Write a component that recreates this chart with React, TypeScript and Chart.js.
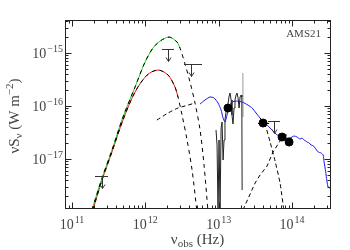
import React, { useEffect, useRef } from "react";
import { Chart, registerables } from "chart.js";
Chart.register(...registerables);

// ---- axis ranges ----
const X_MIN = 8.03e10;
const X_MAX = 3.3e14;
const Y_MIN = 1.19e-18;
const Y_MAX = 4.2e-15;
const X_LABEL_EXPS = [11, 12, 13, 14];
const Y_LABEL_EXPS = [-17, -16, -15];

// ---- cold dust, total (green) ----
const coldNu = [1.87e11, 2.57e11, 3.51e11, 4.96e11, 7.24e11, 9.91e11, 1.27e12, 1.59e12, 2.11e12, 2.71e12, 2.97e12];
const coldFlux = [1.1e-18, 4.38e-18, 1.48e-17, 6.2e-17, 2.28e-16, 6.76e-16, 1.24e-15, 1.68e-15, 2.0e-15, 1.61e-15, 1.24e-15];
const coldTailNu = [3.48e12, 4.07e12, 4.76e12, 5.58e12, 6.32e12, 7.17e12];
const coldTailFlux = [6.2e-16, 2.84e-16, 1.14e-16, 3.52e-17, 7.7e-18, 1.0e-18];

// ---- cold dust, second fit (red) ----
const redNu = [1.93e11, 2.57e11, 3.51e11, 4.96e11, 7.24e11, 1.06e12, 1.49e12, 2.04e12, 2.54e12, 2.79e12];
const redFlux = [1.1e-18, 4.02e-18, 1.36e-17, 5.44e-17, 1.84e-16, 3.85e-16, 4.78e-16, 3.85e-16, 2.28e-16, 1.48e-16];
const redTailNu = [3.17e12, 3.71e12, 4.34e12, 5.07e12];
const redTailFlux = [6.76e-17, 2.28e-17, 6.2e-18, 1.0e-18];

// ---- warm dust component (rising part; falls along the cold tail) ----
const warmNu = [1.44e12, 2.04e12, 2.79e12, 3.82e12, 4.76e12];
const warmFlux = [5.44e-17, 7.38e-17, 9.17e-17, 1.04e-16, 1.14e-16];

// ---- hot dust component (rising) ----
const hotNu = [2.15e13, 3.14e13, 3.67e13, 4.58e13, 5.52e13, 7.32e13, 8.85e13];
const hotFlux = [1.1e-18, 3.52e-18, 4.99e-18, 7.38e-18, 1.36e-17, 2.49e-17, 2.96e-17];

// ---- mid-IR component (falling) ----
const midNu = [3.67e13, 4.3e13, 5.03e13, 5.88e13, 6.88e13, 7.8e13];
const midFlux = [5.94e-17, 4.38e-17, 2.09e-17, 9.17e-18, 3.52e-18, 1.0e-18];

// ---- blue template ----
const blueNu = [5.58e12, 6.52e12, 7.63e12, 8.65e12, 9.81e12, 1.08e13, 1.15e13, 1.22e13, 1.3e13, 1.39e13, 1.52e13, 1.73e13, 2.09e13, 2.52e13, 2.86e13, 3.24e13, 3.67e13, 4.3e13, 5.03e13, 5.88e13, 6.88e13, 8.05e13, 9.42e13, 1.07e14, 1.17e14, 1.29e14, 1.37e14, 1.46e14, 1.53e14, 1.61e14, 1.72e14, 1.82e14, 1.95e14, 2.07e14, 2.27e14, 2.49e14, 2.66e14, 2.74e14, 2.83e14, 2.92e14, 3.01e14, 3.11e14, 3.31e14];
const blueFlux = [1.09e-16, 1.3e-16, 1.48e-16, 1.42e-16, 1.14e-16, 8.41e-17, 5.94e-17, 4.99e-17, 6.76e-17, 1.0e-16, 1.19e-16, 1.24e-16, 1.19e-16, 1.04e-16, 9.17e-17, 7.38e-17, 5.94e-17, 4.78e-17, 3.85e-17, 3.09e-17, 2.6e-17, 2.49e-17, 2.49e-17, 2.72e-17, 2.6e-17, 2.38e-17, 2.5e-17, 2.28e-17, 2.2e-17, 2.09e-17, 2.0e-17, 1.84e-17, 1.78e-17, 1.61e-17, 1.36e-17, 1.3e-17, 1.19e-17, 8.78e-18, 6.76e-18, 4.99e-18, 3.68e-18, 2.96e-18, 2.83e-18];

// ---- IRS spectrum ----
const specNu = [9.21e12, 9.51e12, 9.81e12, 1.013e13, 1.045e13, 1.08e13, 1.113e13, 1.15e13, 1.185e13, 1.22e13, 1.26e13, 1.34e13, 1.39e13, 1.43e13, 1.48e13, 1.52e13, 1.57e13, 1.62e13, 1.67e13, 1.73e13, 1.78e13, 1.84e13, 1.9e13, 1.96e13, 2.02e13, 2.07e13, 2.09e13];
const specFlux = [3.52e-17, 1.84e-17, 1.0e-18, 2.28e-17, 1.0e-18, 3.85e-17, 4.99e-17, 9.57e-18, 2.28e-17, 5.44e-17, 7.7e-17, 1.09e-16, 1.54e-16, 1.76e-16, 1.3e-16, 6.76e-17, 4.57e-17, 9.17e-17, 1.3e-16, 1.61e-16, 1.76e-16, 1.42e-16, 9.17e-17, 1.48e-16, 1.61e-16, 1.48e-16, 2.6e-18];
const spikeNu = [2.14e13, 2.15e13];
const spikeFlux = [4.2e-16, 6.2e-17];

// ---- photometry ----
const dotNu = [1.34e13, 4.03e13, 7.32e13, 9.13e13];
const dotFlux = [9.17e-17, 4.78e-17, 2.6e-17, 2.09e-17];
const dotNuLo = [null, 3.45e13, null, null];
const dotNuHi = [null, 4.87e13, null, null];

// ---- upper limits ----
const ulNu = [2.57e11, 2.04e12, 4.2e12, 5.7e13];
const ulFlux = [4.78e-18, 1.19e-15, 6.2e-16, 5.21e-17];
const ulNuLo = [2.06e11, 1.69e12, 3.37e12, 4.72e13];
const ulNuHi = [3.1e11, 2.46e12, 5.94e12, 6.88e13];

const FONT = '"Liberation Serif", "DejaVu Serif", serif';
const TEXT = "#444";

const pts = (xs: number[], ys: number[]) => xs.map((x, i) => ({ x, y: ys[i] }));

function drawParts(ctx: CanvasRenderingContext2D, parts: { t: string; s: number; dy: number }[], cx: number, y: number) {
  let total = 0;
  const widths = parts.map((p) => {
    ctx.font = `${p.s}px ${FONT}`;
    const w = ctx.measureText(p.t).width;
    total += w;
    return w;
  });
  let x = cx - total / 2;
  ctx.textAlign = "left";
  ctx.textBaseline = "alphabetic";
  parts.forEach((p, i) => {
    ctx.font = `${p.s}px ${FONT}`;
    ctx.fillText(p.t, x, y + p.dy);
    x += widths[i];
  });
}

function drawPow(ctx: CanvasRenderingContext2D, exp: number, x: number, y: number, align: string) {
  const size = 14;
  const es = 10;
  const expStr = exp < 0 ? "\u2212" + String(-exp) : String(exp);
  ctx.font = `${size}px ${FONT}`;
  const wb = ctx.measureText("10").width;
  ctx.font = `${es}px ${FONT}`;
  const we = ctx.measureText(expStr).width;
  const total = wb + 1 + we;
  const x0 = align === "right" ? x - total : x - total / 2;
  ctx.textAlign = "left";
  ctx.textBaseline = "alphabetic";
  ctx.font = `${size}px ${FONT}`;
  ctx.fillText("10", x0, y);
  ctx.font = `${es}px ${FONT}`;
  ctx.fillText(expStr, x0 + wb + 1, y - 6);
}

const decorPlugin = {
  id: "decor",
  afterDatasetsDraw(chart: any) {
    const { ctx, chartArea: a, scales } = chart;
    const xs = scales.x;
    const ys = scales.y;
    ctx.save();
    ctx.strokeStyle = "#333";
    ctx.lineWidth = 1;
    // upper limits
    ulNu.forEach((nu, i) => {
      const cx = Math.round(xs.getPixelForValue(nu)) + 0.5;
      const cy = Math.round(ys.getPixelForValue(ulFlux[i])) + 0.5;
      const x1 = xs.getPixelForValue(ulNuLo[i]);
      const x2 = xs.getPixelForValue(ulNuHi[i]);
      const len = 12;
      ctx.beginPath();
      ctx.moveTo(x1, cy);
      ctx.lineTo(x2, cy);
      ctx.moveTo(cx, cy);
      ctx.lineTo(cx, cy + len);
      ctx.moveTo(cx - 2.5, cy + len - 4);
      ctx.lineTo(cx, cy + len);
      ctx.lineTo(cx + 2.5, cy + len - 4);
      ctx.stroke();
    });
    // error bars
    ctx.strokeStyle = "#000";
    dotNu.forEach((nu, i) => {
      const lo = dotNuLo[i];
      const hi = dotNuHi[i];
      if (lo == null || hi == null) return;
      const cy = Math.round(ys.getPixelForValue(dotFlux[i])) + 0.5;
      ctx.beginPath();
      ctx.moveTo(xs.getPixelForValue(lo), cy);
      ctx.lineTo(xs.getPixelForValue(hi), cy);
      ctx.stroke();
    });
    // frame
    const L = Math.round(a.left) + 0.5;
    const R = Math.round(a.right) + 0.5;
    const T = Math.round(a.top) + 0.5;
    const B = Math.round(a.bottom) + 0.5;
    ctx.strokeStyle = "#222";
    ctx.strokeRect(L, T, R - L, B - T);
    const tickList = (min: number, max: number) => {
      const out: { v: number; major: boolean }[] = [];
      for (let e = Math.floor(Math.log10(min)); e <= Math.ceil(Math.log10(max)); e++) {
        for (let k = 1; k < 10; k++) {
          const v = k * Math.pow(10, e);
          if (v >= min && v <= max) out.push({ v, major: k === 1 });
        }
      }
      return out;
    };
    ctx.beginPath();
    tickList(X_MIN, X_MAX).forEach((t) => {
      const px = Math.round(xs.getPixelForValue(t.v)) + 0.5;
      const len = t.major ? 6 : 3;
      ctx.moveTo(px, B);
      ctx.lineTo(px, B - len);
      ctx.moveTo(px, T);
      ctx.lineTo(px, T + len);
    });
    tickList(Y_MIN, Y_MAX).forEach((t) => {
      const py = Math.round(ys.getPixelForValue(t.v)) + 0.5;
      const len = t.major ? 6 : 3;
      ctx.moveTo(L, py);
      ctx.lineTo(L + len, py);
      ctx.moveTo(R, py);
      ctx.lineTo(R - len, py);
    });
    ctx.stroke();
    // tick labels
    ctx.fillStyle = TEXT;
    X_LABEL_EXPS.forEach((e) => {
      const px = xs.getPixelForValue(Math.pow(10, e));
      drawPow(ctx, e, px, a.bottom + 21, "center");
    });
    Y_LABEL_EXPS.forEach((e) => {
      const py = ys.getPixelForValue(Math.pow(10, e));
      drawPow(ctx, e, a.left - 2, py + 5, "right");
    });
    // axis titles
    drawParts(
      ctx,
      [
        { t: "\u03bd", s: 15, dy: 0 },
        { t: "obs", s: 11, dy: 3 },
        { t: " (Hz)", s: 15, dy: 0 },
      ],
      (a.left + a.right) / 2,
      a.bottom + 36
    );
    ctx.save();
    ctx.translate(19, (a.top + a.bottom) / 2 + 2);
    ctx.rotate(-Math.PI / 2);
    drawParts(
      ctx,
      [
        { t: "\u03bdS", s: 15, dy: 0 },
        { t: "\u03bd", s: 11, dy: 3 },
        { t: " (W m", s: 15, dy: 0 },
        { t: "\u22122", s: 11, dy: -6 },
        { t: ")", s: 15, dy: 0 },
      ],
      0,
      0
    );
    ctx.restore();
    // source name
    ctx.font = `11px ${FONT}`;
    ctx.textAlign = "right";
    ctx.textBaseline = "alphabetic";
    ctx.fillText("AMS21", a.right - 9, a.top + 17);
    ctx.restore();
  },
};

export default function App() {
  const ref = useRef<HTMLCanvasElement | null>(null);
  useEffect(() => {
    if (!ref.current) return;
    const line = (data: any[], color: string, extra: any = {}) => ({
      data,
      borderColor: color,
      backgroundColor: color,
      borderWidth: 1,
      pointRadius: 0,
      showLine: true,
      fill: false,
      tension: 0,
      ...extra,
    });
    const coldFull = pts(coldNu.concat(coldTailNu), coldFlux.concat(coldTailFlux));
    const redFull = pts(redNu.concat(redTailNu), redFlux.concat(redTailFlux));
    const chart = new Chart(ref.current, {
      type: "scatter",
      data: {
        datasets: [
          {
            data: pts(dotNu, dotFlux),
            pointRadius: 4,
            pointBackgroundColor: "#000",
            pointBorderColor: "#000",
            showLine: false,
          },
          line(coldFull, "#000", { borderDash: [4, 4], tension: 0.3 }),
          line(redFull, "#000", { borderDash: [4, 4], tension: 0.3 }),
          line(pts(coldNu, coldFlux), "#1fd41f", { tension: 0.3 }),
          line(pts(redNu, redFlux), "#e81818", { tension: 0.3 }),
          line(pts(warmNu, warmFlux), "#000", { borderDash: [4, 3], tension: 0.2 }),
          line(pts(hotNu, hotFlux), "#000", { borderDash: [4, 3] }),
          line(pts(midNu, midFlux), "#000", { borderDash: [4, 3], tension: 0.2 }),
          line(pts(blueNu, blueFlux), "#1515ee", { tension: 0.2 }),
          line(pts(specNu, specFlux), "#222"),
          line(pts(spikeNu, spikeFlux), "#999"),
        ],
      },
      options: {
        responsive: false,
        animation: false,
        layout: { padding: { left: 65, top: 20, right: 20, bottom: 42 } },
        plugins: { legend: { display: false }, tooltip: { enabled: false } },
        scales: {
          x: { type: "logarithmic", min: X_MIN, max: X_MAX, display: false },
          y: { type: "logarithmic", min: Y_MIN, max: Y_MAX, display: false },
        },
      },
      plugins: [decorPlugin],
    });
    return () => chart.destroy();
  }, []);
  return (
    <div style={{ position: "absolute", left: 0, top: 0, width: 350, height: 250, background: "#fff" }}>
      <canvas ref={ref} width={350} height={250} />
    </div>
  );
}
